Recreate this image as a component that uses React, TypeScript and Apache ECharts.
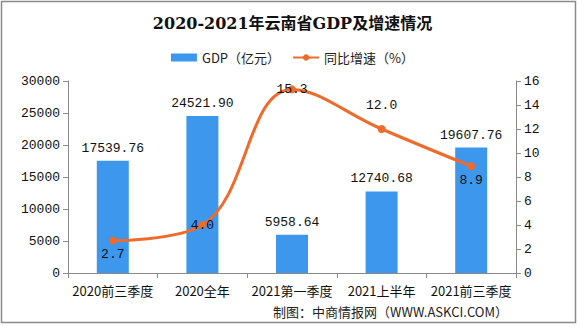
import React, { useEffect, useRef } from "react";
import * as echarts from "echarts";

const categories = ["2020前三季度", "2020全年", "2021第一季度", "2021上半年", "2021前三季度"];
const gdpValues = [17539.76, 24521.9, 5958.64, 12740.68, 19607.76];
const growthValues = [2.7, 4.0, 15.3, 12.0, 8.9];
const leftTicks = { min: 0, max: 30000, interval: 5000 };
const rightTicks = { min: 0, max: 16, interval: 2 };
const growthLabelPositions = ["bottom", "inside", "inside", "top", "bottom"];
const growthLabelDistances = [3, 0, 0, 13, 4];

const monoFont = "'Liberation Mono', 'Noto Sans CJK SC', monospace";
const cjkFont = "'Noto Sans CJK SC', sans-serif";

export default function App() {
  const ref = useRef<HTMLDivElement>(null);
  useEffect(() => {
    if (!ref.current) return;
    const chart = echarts.init(ref.current, null, { renderer: "svg" });
    chart.setOption({
      animation: false,
      backgroundColor: "#ffffff",
      title: {
        text: "2020-2021年云南省GDP及增速情况",
        left: "center",
        top: 10,
        textStyle: {
          fontSize: 16,
          fontWeight: "bold",
          color: "#111",
          fontFamily: "'DejaVu Serif', 'Noto Sans CJK SC', serif",
        },
      },
      legend: {
        top: 46,
        left: "center",
        itemWidth: 26,
        itemHeight: 8,
        itemGap: 12,
        textStyle: { fontSize: 13, color: "#222", fontFamily: cjkFont },
        data: [
          { name: "GDP（亿元）", icon: "rect" },
          { name: "同比增速（%）" },
        ],
      },
      grid: { left: 68, right: 69, top: 81, bottom: 54 },
      graphic: [
        {
          type: "rect",
          shape: { x: 1.5, y: 1.5, width: 574, height: 321 },
          style: { fill: "none", stroke: "#8a8a8a", lineWidth: 1.5 },
          silent: true,
        },
        {
          type: "text",
          right: 77,
          top: 305,
          style: {
            text: "制图：中商情报网（WWW.ASKCI.COM）",
            fontSize: 13,
            fill: "#222",
            fontFamily: cjkFont,
          },
        },
      ],
      xAxis: {
        type: "category",
        data: categories,
        axisLine: { lineStyle: { color: "#8a8a8a" } },
        axisTick: { show: true, length: 5, lineStyle: { color: "#8a8a8a" } },
        axisLabel: { color: "#111", fontSize: 13, margin: 11, fontFamily: cjkFont, interval: 0 },
      },
      yAxis: [
        {
          type: "value",
          ...leftTicks,
          splitLine: { show: false },
          axisLine: { show: true, lineStyle: { color: "#8a8a8a" } },
          axisTick: { show: true, length: 5, lineStyle: { color: "#8a8a8a" } },
          axisLabel: {
            color: "#111",
            fontSize: 13,
            margin: 8,
            fontFamily: monoFont,
            formatter: (v: number) => String(v),
          },
        },
        {
          type: "value",
          ...rightTicks,
          position: "right",
          splitLine: { show: false },
          axisLine: { show: true, lineStyle: { color: "#8a8a8a" } },
          axisTick: { show: true, length: 5, lineStyle: { color: "#8a8a8a" } },
          axisLabel: {
            color: "#111",
            fontSize: 13,
            margin: 8,
            fontFamily: monoFont,
            formatter: (v: number) => String(v),
          },
        },
      ],
      series: [
        {
          name: "GDP（亿元）",
          type: "bar",
          data: gdpValues,
          barWidth: 32,
          itemStyle: { color: "#3D97EC" },
          label: {
            show: true,
            position: "top",
            distance: 6,
            color: "#111",
            fontSize: 13,
            fontFamily: monoFont,
            formatter: (p: any) => Number(p.value).toFixed(2),
          },
        },
        {
          name: "同比增速（%）",
          type: "line",
          yAxisIndex: 1,
          smooth: 0.4,
          symbol: "circle",
          symbolSize: 8,
          itemStyle: { color: "#EE6B2B" },
          lineStyle: { color: "#EE6B2B", width: 3 },
          data: growthValues.map((v, i) => ({
            value: v,
            label: {
              show: true,
              position: growthLabelPositions[i],
              distance: growthLabelDistances[i],
              color: "#111",
              fontSize: 13,
              fontFamily: monoFont,
              formatter: (p: any) => Number(p.value).toFixed(1),
            },
          })),
        },
      ],
    });
    return () => chart.dispose();
  }, []);
  return (
    <div
      ref={ref}
      style={{ position: "absolute", left: 0, top: 0, width: 585, height: 327 }}
    />
  );
}
